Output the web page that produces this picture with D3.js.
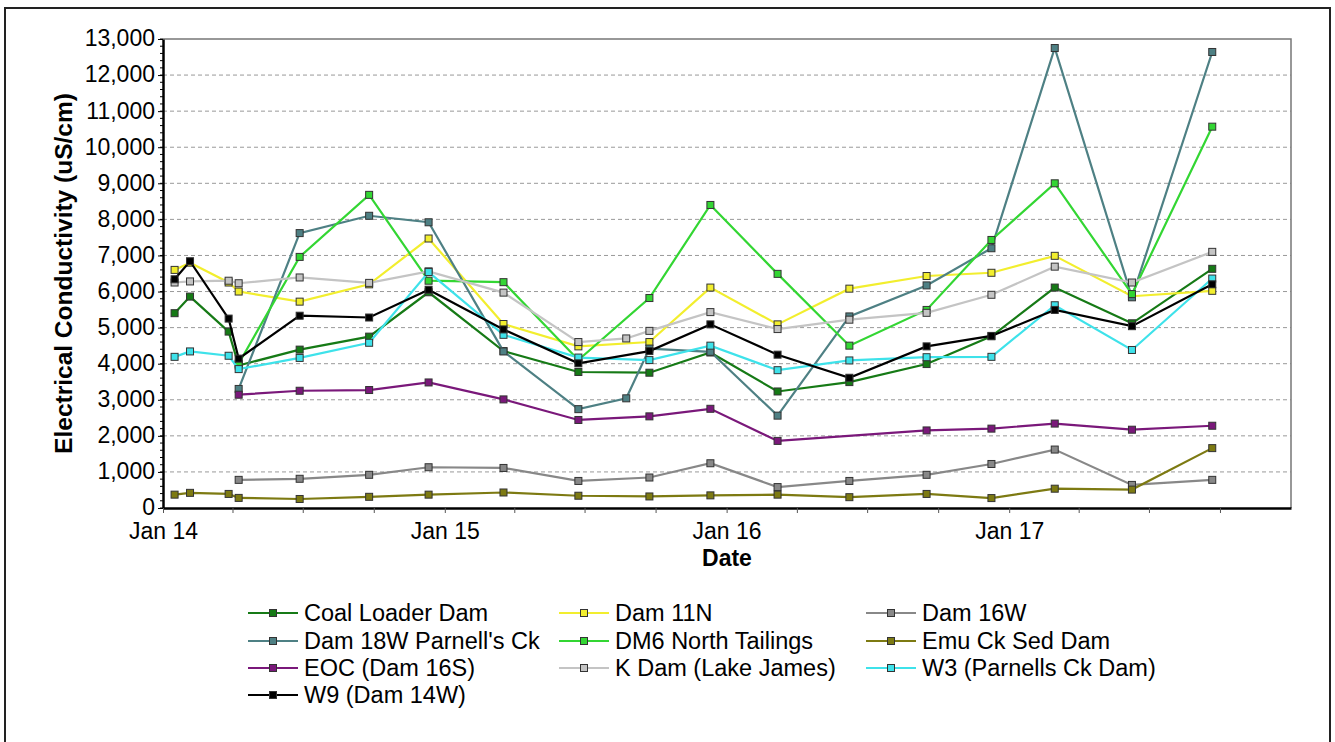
<!DOCTYPE html>
<html lang="en">
<head>
<meta charset="UTF-8">
<title>Electrical Conductivity</title>
<script src="https://cdn.jsdelivr.net/npm/d3@7"></script>
<style>
  body { margin: 0; background: #fff; }
  text { font-family: Arial, "Liberation Sans", sans-serif; fill: #000; }
</style>
</head>
<body>
<div id="chart"></div>
<script>
// sampling dates
const dates = ["2014-01-16", "2014-02-05", "2014-03-27", "2014-04-09", "2014-06-27", "2014-09-25",
  "2014-12-11", "2015-03-18", "2015-06-23", "2015-08-24", "2015-09-23", "2015-12-11",
  "2016-03-07", "2016-06-08", "2016-09-16", "2016-12-09", "2017-03-01", "2017-06-09", "2017-09-21"];

// EC values (uS/cm), null = not sampled
const coalLoader = [5400, 5860, 4890, 3950, 4390, 4750, 5980, 4350, 3770, null, 3750, 4310, 3230, 3490, 3990, 4760, 6110, 5120, 6630];
const dam11N     = [6600, 6800, 6250, 6000, 5720, 6200, 7470, 5100, 4480, null, 4600, 6110, 5090, 6080, 6430, 6520, 6990, 5870, 6020];
const dam16W     = [null, null, null, 780, 810, 920, 1130, 1110, 750, null, 845, 1240, 580, 750, 920, 1220, 1620, 640, 780];
const dam18W     = [null, null, null, 3300, 7620, 8100, 7920, 4340, 2740, 3040, 4420, 4330, 2560, 5310, 6170, 7200, 12750, 5840, 12640];
const dm6        = [null, null, null, 4000, 6960, 8680, 6300, 6260, 4100, null, 5820, 8400, 6490, 4500, 5490, 7430, 9000, 5930, 10570];
const emuCk      = [370, 420, 390, 280, 250, 310, 370, 430, 340, null, 320, 350, 370, 300, 390, 275, 535, 510, 1660];
const eoc        = [null, null, null, 3140, 3250, 3270, 3480, 3010, 2440, null, 2540, 2750, 1860, null, 2150, 2200, 2340, 2170, 2280];
const kDam       = [6250, 6280, 6300, 6230, 6390, 6240, 6560, 5970, 4600, 4700, 4910, 5430, 4960, 5220, 5410, 5910, 6690, 6250, 7100];
const w3         = [4190, 4340, 4220, 3850, 4160, 4580, 6540, 4800, 4170, null, 4100, 4500, 3820, 4090, 4180, 4190, 5620, 4380, 6360];
const w9         = [6340, 6840, 5250, 4140, 5330, 5280, 6050, 4950, 4010, null, 4350, 5090, 4250, 3610, 4480, 4770, 5490, 5040, 6200];

const series = [
  { name: "Coal Loader Dam", color: "#167a16", values: coalLoader },
  { name: "Dam 11N", color: "#f2ee2e", values: dam11N },
  { name: "Dam 16W", color: "#888888", values: dam16W },
  { name: "Dam 18W Parnell's Ck", color: "#4e8084", values: dam18W },
  { name: "DM6 North Tailings", color: "#33d633", values: dm6 },
  { name: "Emu Ck Sed Dam", color: "#7d7a12", values: emuCk },
  { name: "EOC (Dam 16S)", color: "#7a187a", values: eoc },
  { name: "K Dam (Lake James)", color: "#c4c4c4", values: kDam },
  { name: "W3 (Parnells Ck Dam)", color: "#3ee2ea", values: w3 },
  { name: "W9 (Dam 14W)", color: "#000000", values: w9 }
];

const W = 1335, H = 742;
const m = { left: 163, top: 39, right: 1291, bottom: 508 };
const parse = d3.timeParse("%Y-%m-%d");

const svg = d3.select("#chart").append("svg")
  .attr("width", W).attr("height", H);

// outer frame
svg.append("rect").attr("x", 5).attr("y", 8).attr("width", 1325).attr("height", 740)
  .attr("fill", "none").attr("stroke", "#222").attr("stroke-width", 2);

const x = d3.scaleTime()
  .domain([parse("2014-01-01"), parse("2018-01-01")])
  .range([m.left, m.right]);
const y = d3.scaleLinear().domain([0, 13000]).range([m.bottom, m.top]);

// grid
svg.append("g").selectAll("line")
  .data(d3.range(1000, 13000, 1000))
  .join("line")
  .attr("x1", m.left).attr("x2", m.right)
  .attr("y1", d => y(d)).attr("y2", d => y(d))
  .attr("stroke", "#999").attr("stroke-dasharray", "4,3");

// top / right border of plot
svg.append("path")
  .attr("d", `M${m.left},${m.top}H${m.right}V${m.bottom}`)
  .attr("fill", "none").attr("stroke", "#777").attr("stroke-width", 1.5);

// y minor ticks
svg.append("g").selectAll("line")
  .data(d3.range(0, 13001, 200))
  .join("line")
  .attr("x1", m.left - 3).attr("x2", m.left)
  .attr("y1", d => y(d)).attr("y2", d => y(d))
  .attr("stroke", "#000");

const yAxis = svg.append("g")
  .attr("transform", `translate(${m.left},0)`)
  .call(d3.axisLeft(y).tickValues(d3.range(0, 13001, 1000)).tickFormat(d3.format(",")).tickSize(5).tickSizeOuter(0));
yAxis.select(".domain").attr("stroke", "#000").attr("stroke-width", 2.5);
yAxis.selectAll("text").attr("font-size", 23).attr("x", -8).attr("dy", "0.3em").attr("font-family", null);

// quarterly ticks, labels only on January (no tick at the right edge)
const xTicks = d3.timeMonth.every(3).range(parse("2014-01-01"), parse("2018-01-01"));
const xAxis = svg.append("g")
  .attr("transform", `translate(0,${m.bottom})`)
  .call(d3.axisBottom(x)
    .tickValues(xTicks)
    .tickFormat(d => d.getMonth() === 0 ? d3.timeFormat("Jan %y")(d) : "")
    .tickSize(5).tickSizeOuter(0));
xAxis.select(".domain").attr("stroke", "#000").attr("stroke-width", 2.5);
xAxis.selectAll(".tick line").attr("stroke", "#555");
xAxis.selectAll("text").attr("font-size", 23).attr("y", 15).attr("font-family", null);

// axis titles
svg.append("text")
  .attr("transform", `translate(72,${(m.top + m.bottom) / 2}) rotate(-90)`)
  .attr("text-anchor", "middle").attr("font-size", 24.5).attr("font-weight", "bold")
  .text("Electrical Conductivity (uS/cm)");
svg.append("text")
  .attr("x", (m.left + m.right) / 2).attr("y", 566)
  .attr("text-anchor", "middle").attr("font-size", 23).attr("font-weight", "bold")
  .text("Date");

// lines and markers
const line = d3.line().x(d => x(d.date)).y(d => y(d.v));

series.forEach(s => {
  const pts = s.values.map((v, i) => ({ date: parse(dates[i]), v }))
    .filter(d => d.v !== null);
  const g = svg.append("g");
  g.append("path").datum(pts)
    .attr("d", line).attr("fill", "none")
    .attr("stroke", s.color).attr("stroke-width", 2.2);
  g.selectAll("rect").data(pts).join("rect")
    .attr("x", d => x(d.date) - 3.5).attr("y", d => y(d.v) - 3.5)
    .attr("width", 7).attr("height", 7)
    .attr("fill", s.color).attr("stroke", "#333").attr("stroke-width", 1);
});

// legend
const legCols = [248, 559, 866];
const legRows = [613, 641, 668, 695];
const legend = svg.append("g").selectAll("g")
  .data(series)
  .join("g")
  .attr("transform", (d, i) => `translate(${legCols[i % 3]},${legRows[Math.floor(i / 3)]})`);
legend.append("line")
  .attr("x1", 0).attr("x2", 50)
  .attr("stroke", d => d.color).attr("stroke-width", 2.2);
legend.append("rect")
  .attr("x", 21.5).attr("y", -3.5).attr("width", 7).attr("height", 7)
  .attr("fill", d => d.color).attr("stroke", "#333");
legend.append("text")
  .attr("x", 56).attr("dy", "0.35em")
  .attr("font-size", 23.5)
  .text(d => d.name);
</script>
</body>
</html>
